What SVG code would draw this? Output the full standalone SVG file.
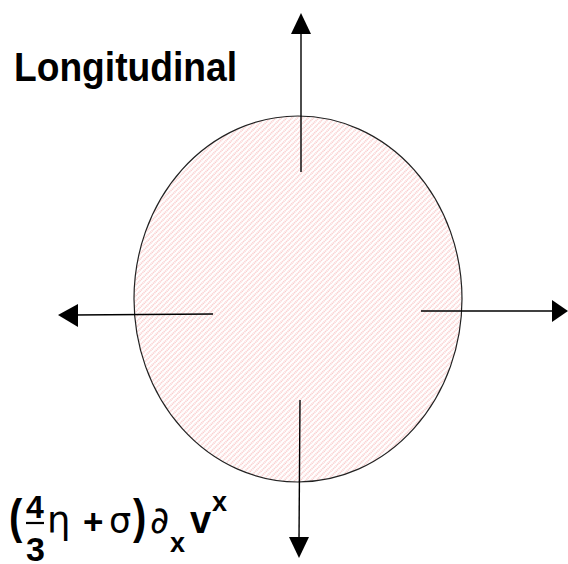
<svg xmlns="http://www.w3.org/2000/svg" width="568" height="564" viewBox="0 0 568 564">
<style>
.b{font-family:"Liberation Sans",Arial,sans-serif;font-weight:bold;fill:#000}
.g{font-family:"DejaVu Sans","Liberation Sans",sans-serif;font-weight:normal;fill:#000}
.ln{stroke:#000;stroke-width:1.4;fill:none}
.hd{fill:#000;stroke:none}
</style>
<defs>
<pattern id="hatch" patternUnits="userSpaceOnUse" width="3.8" height="3.8" patternTransform="rotate(45)">
<line x1="1" y1="0" x2="1" y2="3.8" stroke="#f29a9a" stroke-width="0.9" stroke-dasharray="1.2,0.7"/>
</pattern>
</defs>
<rect width="568" height="564" fill="#fff"/>
<g id="disk">
<ellipse cx="298" cy="299" rx="164" ry="183" fill="url(#hatch)" stroke="#222" stroke-width="1.2"/>
</g>
<g id="connectors">
<line class="ln" x1="301" y1="172" x2="301" y2="30"/>
<polygon class="hd" points="301,13 291,34 311,34"/>
<line class="ln" x1="300" y1="400" x2="299" y2="540"/>
<polygon class="hd" points="299,558 289,537 309,537"/>
<line class="ln" x1="213" y1="314" x2="74" y2="315"/>
<polygon class="hd" points="58,315 78,304 78,327"/>
<line class="ln" x1="421" y1="311" x2="556" y2="311"/>
<polygon class="hd" points="568,311 552,300 552,322"/>
</g>
<g id="title">
<text class="b" x="14" y="81" font-size="40" textLength="223" lengthAdjust="spacingAndGlyphs">Longitudinal</text>
</g>
<g id="formula">
<text class="b" font-size="40" transform="translate(9,533) scale(1,1.18)">(</text>
<text class="b" x="26" y="518" font-size="32">4</text>
<line x1="26" y1="523" x2="44" y2="523" stroke="#000" stroke-width="2.2"/>
<text class="b" x="26" y="561" font-size="34">3</text>
<text class="g" x="47" y="533" font-size="37">η</text>
<text class="b" x="83" y="534" font-size="35">+</text>
<text class="g" x="109" y="533" font-size="35">σ</text>
<text class="b" font-size="40" transform="translate(133,533) scale(1,1.18)">)</text>
<text class="g" x="150" y="533" font-size="37">∂</text>
<text class="b" x="170" y="552" font-size="27">x</text>
<text class="b" x="190" y="533" font-size="38">v</text>
<text class="b" x="212" y="511" font-size="27">x</text>
</g>
</svg>
